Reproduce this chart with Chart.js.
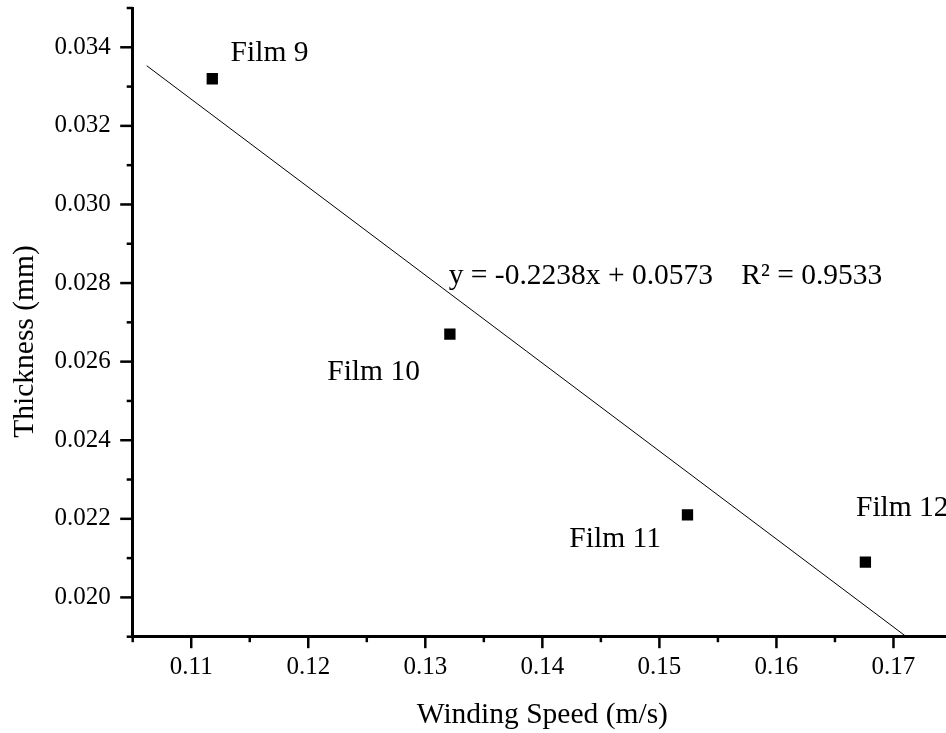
<!DOCTYPE html>
<html><head><meta charset="utf-8">
<script src="https://cdn.jsdelivr.net/npm/chart.js@4.4.1/dist/chart.umd.min.js"></script>
<style>html,body{margin:0;padding:0;overflow:hidden;background:#fff;} #wrap{width:960px;height:733px;}</style>
</head><body><div id="wrap"><canvas id="c" width="960" height="733"></canvas></div>
<script>
// ---- data ----
const films = ['Film 9', 'Film 10', 'Film 11', 'Film 12'];
const windingSpeed = [0.1118, 0.1321, 0.1524, 0.1676];
const thickness = [0.0332, 0.0267, 0.0221, 0.0209];
const fitSpeed = [0.1062, 0.1711];
const fitThickness = [0.03353, 0.0190];
const fitEquation = 'y = -0.2238x + 0.0573';
const fitR2 = 'R² = 0.9533';
const xTitle = 'Winding Speed (m/s)';
const yTitle = 'Thickness (mm)';

// ---- styling ----
const FONT = '"Liberation Serif", "Times New Roman", serif';
const labelOffsets = [
  {dx: 18.3, dy: -17.7, align: 'left'},
  {dx: -30, dy: 45.6, align: 'right'},
  {dx: -26.6, dy: 32, align: 'right'},
  {dx: -9.4, dy: -46, align: 'left'}
];

const overlay = {
  id: 'overlay',
  afterDraw(chart) {
    const ctx = chart.ctx, xs = chart.scales.x, ys = chart.scales.y, a = chart.chartArea;
    ctx.save();
    ctx.strokeStyle = '#000';
    ctx.lineWidth = 2.5;
    xs.ticks.forEach(t => {
      const major = Math.round(t.value * 1000) % 10 === 0;
      const px = xs.getPixelForValue(t.value);
      ctx.beginPath();
      ctx.moveTo(px, a.bottom);
      ctx.lineTo(px, a.bottom + (major ? 11.5 : 5.5));
      ctx.stroke();
    });
    ys.ticks.forEach(t => {
      const major = Math.round(t.value * 1000) % 2 === 0;
      const py = ys.getPixelForValue(t.value);
      ctx.beginPath();
      ctx.moveTo(a.left, py);
      ctx.lineTo(a.left - (major ? 12.5 : 6), py);
      ctx.stroke();
    });
    ctx.fillStyle = '#000';
    ctx.font = '29.5px ' + FONT;
    ctx.textBaseline = 'alphabetic';
    // point labels
    films.forEach((f, i) => {
      const px = xs.getPixelForValue(windingSpeed[i]);
      const py = ys.getPixelForValue(thickness[i]);
      const o = labelOffsets[i];
      ctx.textAlign = o.align;
      ctx.fillText(f, px + o.dx, py + o.dy);
    });
    // fit equation
    ctx.textAlign = 'left';
    ctx.fillText(fitEquation, xs.getPixelForValue(0.1320), ys.getPixelForValue(0.02798));
    ctx.fillText(fitR2, xs.getPixelForValue(0.1570), ys.getPixelForValue(0.02798));
    // axis titles
    ctx.textAlign = 'center';
    ctx.fillText(xTitle, (a.left + a.right) / 2, 723.3);
    ctx.save();
    ctx.translate(33, 341.5);
    ctx.rotate(-Math.PI / 2);
    ctx.fillText(yTitle, 0, 0);
    ctx.restore();
    ctx.restore();
  }
};

function noPad(s) { s.paddingTop = 0; s.paddingBottom = 0; s.paddingLeft = 0; s.paddingRight = 0; }

new Chart(document.getElementById('c'), {
  type: 'scatter',
  data: {
    datasets: [
      {
        label: 'Thickness',
        data: windingSpeed.map((x, i) => ({x: x, y: thickness[i]})),
        pointStyle: 'rect', pointRadius: 8, pointHoverRadius: 8,
        backgroundColor: '#000', borderColor: '#000', borderWidth: 0,
        showLine: false, order: 1
      },
      {
        label: 'Linear fit',
        data: fitSpeed.map((x, i) => ({x: x, y: fitThickness[i]})),
        showLine: true, borderColor: '#000', borderWidth: 1,
        pointRadius: 0, pointHoverRadius: 0, fill: false, order: 2
      }
    ]
  },
  options: {
    responsive: false, animation: false, devicePixelRatio: 1,
    layout: {padding: {left: 0, top: 6, right: 5.5, bottom: 0}},
    plugins: {legend: {display: false}, tooltip: {enabled: false}},
    scales: {
      x: {
        type: 'linear', position: 'bottom', min: 0.105, max: 0.175,
        grid: {display: false, drawTicks: false},
        border: {display: true, color: '#000', width: 3},
        ticks: {
          stepSize: 0.005, autoSkip: false, maxRotation: 0, minRotation: 0, padding: 16,
          color: '#000', font: {family: FONT, size: 25},
          callback: v => Math.round(v * 1000) % 10 === 0 ? v.toFixed(2) : ''
        },
        afterFit(s) { s.height = 96.3; noPad(s); }
      },
      y: {
        type: 'linear', position: 'left', min: 0.019, max: 0.035,
        grid: {display: false, drawTicks: false},
        border: {display: true, color: '#000', width: 3},
        ticks: {
          stepSize: 0.001, autoSkip: false, padding: 22, maxTicksLimit: 100,
          color: '#000', font: {family: FONT, size: 25},
          callback: v => Math.round(v * 1000) % 2 === 0 ? v.toFixed(3) : ''
        },
        afterFit(s) { s.width = 132.7; noPad(s); }
      }
    }
  },
  plugins: [overlay]
});
</script>
</body></html>
